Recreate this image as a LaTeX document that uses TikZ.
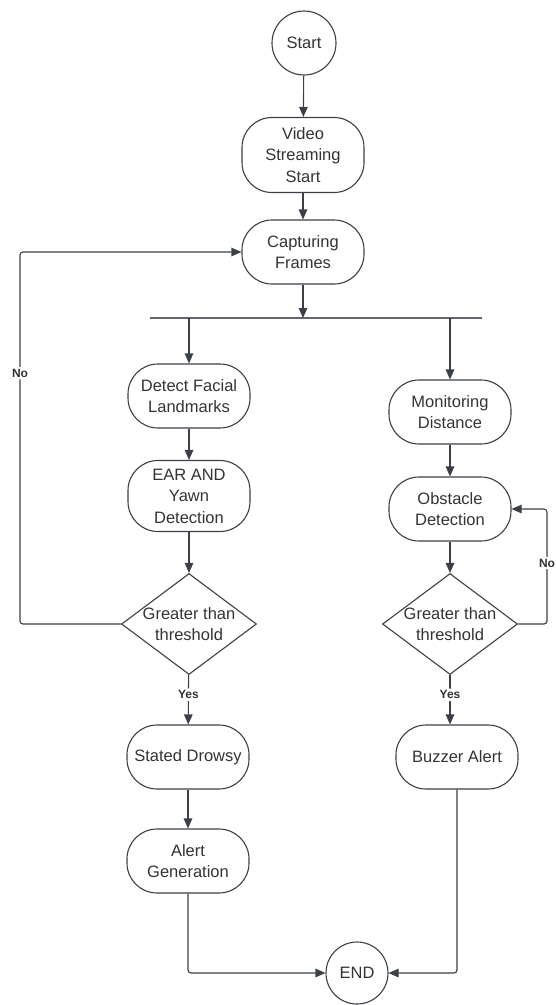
\documentclass[tikz,border=0pt]{standalone}
\usepackage{fontspec}
\setmainfont{Liberation Sans}
\usepackage{xcolor}
\usetikzlibrary{arrows.meta,positioning,calc,shapes.geometric}
\definecolor{FlowLine}{HTML}{3B3F46}
\definecolor{FlowText}{HTML}{333333}

\begin{document}
\begin{tikzpicture}[
        x=1pt, y=-1pt,
        >={Triangle[length=10pt,width=8.5pt]},
        font=\fontsize{16.5}{21.5}\selectfont,
        terminal/.style={
            circle,
            draw=FlowLine,
            line width=1.1pt,
            inner sep=0pt,
            text=FlowText
        },
        stepbox/.style={
            rectangle,
            draw=FlowLine,
            line width=1.1pt,
            rounded corners=30pt,
            align=center,
            inner sep=2pt,
            minimum width=122pt,
            minimum height=64pt,
            text=FlowText
        },
        decision/.style={
            diamond,
            draw=FlowLine,
            line width=1.1pt,
            inner sep=0pt,
            minimum width=135pt,
            minimum height=101pt,
            label={[align=center, text=FlowText]center:Greater than\\threshold}
        },
        flowlabel/.style={
            font=\fontsize{12}{14}\selectfont\bfseries,
            text=FlowText,
            fill=white,
            inner sep=2pt
        },
        arrow/.style={->, line width=1.1pt, draw=FlowLine, rounded corners=3pt},
        busline/.style={line width=1.1pt, draw=FlowLine!80}
    ]
        \useasboundingbox (0,0) rectangle (555,1005);

        \node[terminal, minimum size=64pt] (start) at (304,43) {Start};
        \node[stepbox, minimum height=75pt] (video) at (303,155)
            {Video\\Streaming\\Start};
        \node[stepbox] (capture) at (303,252) {Capturing\\Frames};

        \coordinate (busl) at (150,318);
        \coordinate (busr) at (482,318);

        % drowsiness branch
        \node[stepbox] (facial) at (189,396) {Detect Facial\\Landmarks};
        \node[stepbox, minimum height=71pt] (ear) at (189,496)
            {EAR AND\\Yawn\\Detection};
        \node[decision] (drowsycheck) at (189,624) {};
        \node[stepbox] (drowsy) at (188,757) {Stated Drowsy};
        \node[stepbox] (alertgen) at (188,861) {Alert\\Generation};
        \coordinate (noleft) at (20,252);

        % distance branch
        \node[stepbox] (monitor) at (450,412) {Monitoring\\Distance};
        \node[stepbox] (obstacle) at (450,509) {Obstacle\\Detection};
        \node[decision] (obstaclecheck) at (450,624) {};
        \node[stepbox] (buzzer) at (457,757) {Buzzer Alert};
        \coordinate (noright) at (547,509);

        \node[terminal, minimum size=62pt] (stop) at (357,973) {END};

        \draw[arrow] (start) -- (video);
        \draw[arrow] (video) -- (capture);
        \draw[arrow] (capture) -- (capture |- busl);
        \draw[busline] (busl) -- (busr);
        \draw[arrow] (facial |- busl) -- (facial);
        \draw[arrow] (monitor |- busl) -- (monitor);

        \draw[arrow] (facial) -- (ear);
        \draw[arrow] (ear) -- (drowsycheck);
        \draw[arrow] (drowsycheck) -- node[flowlabel, pos=0.4] {Yes} (drowsy);
        \draw[arrow] (drowsy) -- (alertgen);
        \draw[arrow] (alertgen) |- (stop);
        \draw[arrow] (drowsycheck.west) -| node[flowlabel, pos=0.837] {No} (noleft) -- (capture.west);

        \draw[arrow] (monitor) -- (obstacle);
        \draw[arrow] (obstacle) -- (obstaclecheck);
        \draw[arrow] (obstaclecheck) -- node[flowlabel, pos=0.4] {Yes} (obstaclecheck |- buzzer.north);
        \draw[arrow] (buzzer) |- (stop);
        \draw[arrow] (obstaclecheck.east) -| node[flowlabel, pos=0.765] {No} (noright) -- (obstacle.east);
    \end{tikzpicture}
\end{document}
